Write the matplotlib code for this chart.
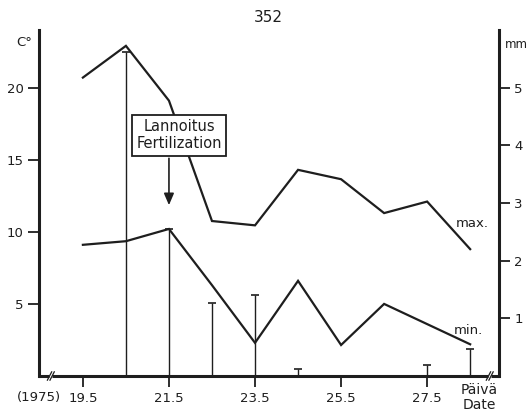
import matplotlib
matplotlib.use("Agg")
import matplotlib.pyplot as plt
from matplotlib.transforms import blended_transform_factory

plt.rcParams['font.family'] = ['DejaVu Sans']

# ---- data ----
days = [19.5, 20.5, 21.5, 22.5, 23.5, 24.5, 25.5, 26.5, 27.5, 28.5]
tmax = [20.7, 22.9, 19.1, 10.75, 10.45, 14.3, 13.65, 11.3, 12.1, 8.8]
tmin = [9.1, 9.35, 10.2, 6.3, 2.3, 6.6, 2.15, 5.0, 3.6, 2.2]
precip = [0.0, 5.62, 2.55, 1.27, 1.40, 0.12, 0.0, 0.0, 0.19, 0.47]
xticks = [19.5, 21.5, 23.5, 25.5, 27.5]
xticklabels = ["19.5", "21.5", "23.5", "25.5", "27.5"]
lticks = [5, 10, 15, 20]
rticks = [1, 2, 3, 4, 5]

INK = "#1e1e1e"
W, H = 528, 412
fig = plt.figure(figsize=(W / 100, H / 100), dpi=100)
ax = fig.add_axes([39 / W, 1 - 376 / H, (499 - 39) / W, (376 - 30) / H])
ax2 = ax.twinx()
ax.set_zorder(ax2.get_zorder() + 1)
ax.patch.set_visible(False)

ax.set_xlim(18.48, 29.17)
ax.set_ylim(0, 24)
ax2.set_ylim(0, 6)

# temperature lines
ax.plot(days, tmax, color=INK, lw=1.6, solid_joinstyle='miter', zorder=3)
ax.plot(days, tmin, color=INK, lw=1.6, solid_joinstyle='miter', zorder=3)

# precipitation bars (right axis)
pd_x = [d for d, p in zip(days, precip) if p > 0]
pd_y = [p for p in precip if p > 0]
ax2.vlines(pd_x, 0, pd_y, color=INK, lw=1.0)
ax2.plot(pd_x, pd_y, ls='none', marker='_', markersize=6, mew=1.2, color=INK)

# spines
for a in (ax, ax2):
    a.spines['top'].set_visible(False)
    a.spines['bottom'].set_visible(False)
    a.spines['left'].set_linewidth(2.2)
    a.spines['right'].set_linewidth(2.2)
    a.spines['left'].set_color(INK)
    a.spines['right'].set_color(INK)
ax2.spines['left'].set_visible(False)
ax.spines['right'].set_visible(False)

# broken bottom axis
tr = blended_transform_factory(ax.transData, ax.transAxes)
segs = [(18.48, 18.72), (18.79, 28.92), (28.99, 29.17)]
for x0, x1 in segs:
    ax.plot([x0, x1], [0, 0], color=INK, lw=2.2, transform=tr, clip_on=False,
            solid_capstyle='butt', zorder=5)
for xb in (18.755, 28.955):
    for dx in (-0.03, 0.03):
        ax.plot([xb + dx - 0.05, xb + dx + 0.05], [-0.012, 0.012], color=INK,
                lw=0.9, transform=tr, clip_on=False, zorder=6)

# ticks
ax.set_xticks(xticks)
ax.set_xticklabels(xticklabels)
ax.set_yticks(lticks)
ax.set_yticklabels([str(v) for v in lticks])
ax2.set_yticks(rticks)
ax2.set_yticklabels([str(v) for v in rticks])
ax.tick_params(axis='x', direction='out', length=8, width=1.3, pad=3.5,
               labelsize=9.5, colors=INK)
ax.tick_params(axis='y', direction='out', length=8, width=1.3, pad=3,
               labelsize=9.5, colors=INK)
ax2.tick_params(axis='y', direction='out', length=8, width=1.3, pad=3,
                labelsize=9.5, colors=INK)

# texts
fig.text(268 / W, 1 - 17 / H, "352", ha='center', va='center', fontsize=11, color=INK)
fig.text(24 / W, 1 - 42 / H, "C°", ha='center', va='center', fontsize=9.5, color=INK)
fig.text(505 / W, 1 - 44 / H, "mm", ha='left', va='center', fontsize=8.5, color=INK)
fig.text(61 / W, 1 - 398 / H, "(1975)", ha='right', va='center', fontsize=9.5, color=INK)
fig.text(479 / W, 1 - 390 / H, "Päivä", ha='center', va='center', fontsize=10, color=INK)
fig.text(479 / W, 1 - 405 / H, "Date", ha='center', va='center', fontsize=10, color=INK)
ax.text(28.55, 10.6, "max.", ha='center', va='center', fontsize=9.5, color=INK)
ax.text(28.45, 3.15, "min.", ha='center', va='center', fontsize=9.5, color=INK)

# fertilization annotation
ax.text(21.74, 16.7, "Lannoitus\nFertilization", ha='center', va='center',
        fontsize=10.5, color=INK, linespacing=1.2, zorder=7,
        bbox=dict(boxstyle='square,pad=0.3', fc='white', ec=INK, lw=1.3))
ax.annotate("", xy=(21.5, 11.85), xytext=(21.5, 15.1),
            arrowprops=dict(arrowstyle='-|>,head_length=0.7,head_width=0.3',
                            color=INK, lw=1.2, shrinkA=0, shrinkB=0), zorder=6)

fig.savefig("out.png", dpi=100, facecolor='white')
